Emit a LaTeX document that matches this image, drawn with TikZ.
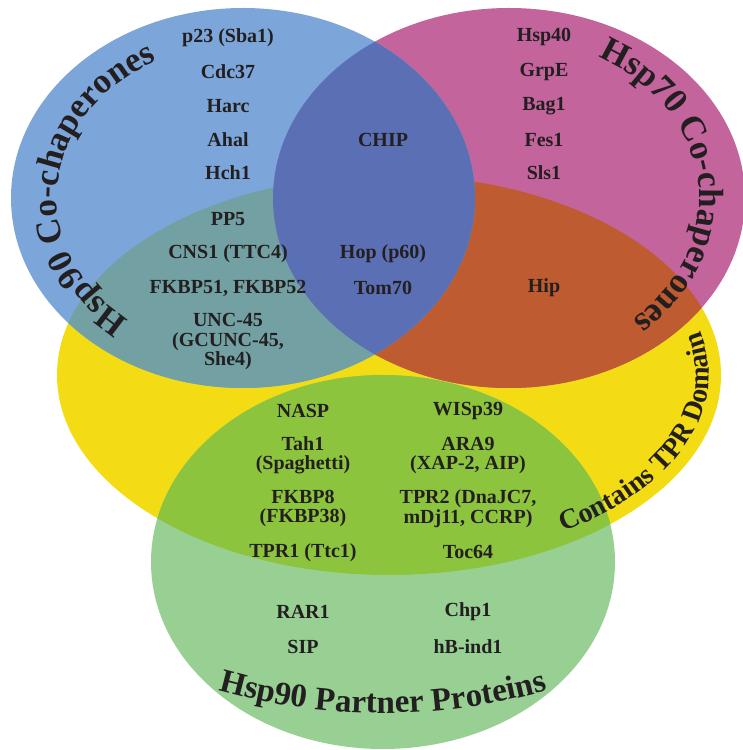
\documentclass[tikz,border=0pt]{standalone}
\usepackage{fontspec}
\setmainfont{Liberation Serif}
\usetikzlibrary{decorations.text}
\definecolor{cblue}{RGB}{124,166,218}
\definecolor{cmag}{RGB}{196,100,156}
\definecolor{cdark}{RGB}{91,111,181}
\definecolor{cyel}{RGB}{243,220,20}
\definecolor{corange}{RGB}{191,91,48}
\definecolor{cteal}{RGB}{114,160,163}
\definecolor{cgreen}{RGB}{152,207,147}
\definecolor{cygreen}{RGB}{141,196,61}
\definecolor{ink}{RGB}{35,31,32}
\begin{document}
\begin{tikzpicture}[x=1pt,y=1pt,
  item/.style={font=\fontsize{20}{19.5}\selectfont\bfseries, text=ink, align=center, inner sep=0pt},
  curvlabel/.style={decorate, decoration={text along path, text align=center, text color=ink}}]
\useasboundingbox (0,0) rectangle (743,750);
\def\blueE{(243,552) ellipse [x radius=232, y radius=190]}
\def\magE{(509,552) ellipse [x radius=236, y radius=190]}
\def\yelE{(389,375) ellipse [x radius=332, y radius=200]}
\def\grnE{(383,188) ellipse [x radius=232, y radius=187]}
% base fills
\fill[cyel] \yelE;
\fill[cgreen] \grnE;
\fill[cmag] \magE;
\fill[cblue] \blueE;
% overlaps with yellow
\begin{scope}
  \clip \yelE;
  \fill[cygreen] \grnE;
  \fill[corange] \magE;
  \fill[cteal] \blueE;
\end{scope}
% blue with magenta
\begin{scope}
  \clip \blueE;
  \fill[cdark] \magE;
\end{scope}
% curved labels
\path[curvlabel, decoration={text={|\fontsize{35}{35}\selectfont\bfseries|Hsp90 Co-chaperones}}]
  (243,552) ++(248:186 and 155) arc[start angle=248, end angle=102, x radius=186, y radius=155];
\path[curvlabel, decoration={text={|\fontsize{35}{35}\selectfont\bfseries|Hsp70 Co-chaperones}}]
  (509,552) ++(74:190 and 160) arc[start angle=74, end angle=-62, x radius=190, y radius=160];
\path[curvlabel, decoration={text={|\fontsize{28}{28}\selectfont\bfseries|Contains TPR Domain}}]
  (389,375) ++(-60:320 and 187) arc[start angle=-60, end angle=18, x radius=320, y radius=187];
\path[curvlabel, decoration={text={|\fontsize{33}{33}\selectfont\bfseries|Hsp90 Partner Proteins}}]
  (383,647) ++(250:610) arc[start angle=250, end angle=290, radius=610];
% items: Hsp90 co-chaperones
\node[item] (p23) at (228,712) {p23 (Sba1)};
\node[item] (cdc) at (228,678) {Cdc37};
\node[item] (harc) at (228,644) {Harc};
\node[item] (aha) at (228,610) {Ahal};
\node[item] (hch) at (228,577) {Hch1};
\node[item] (pp5) at (228,531) {PP5};
\node[item] (cns) at (228,496) {CNS1 (TTC4)};
\node[item] (fkbp) at (228,462) {FKBP51, FKBP52};
\node[item] (unc) at (228,408) {UNC-45\\(GCUNC-45,\\She4)};
% shared
\node[item] (chip) at (383,610) {CHIP};
\node[item] (hop) at (383,496) {Hop (p60)};
\node[item] (tom) at (383,462) {Tom70};
% Hsp70 co-chaperones
\node[item] (hsp40) at (544,713) {Hsp40};
\node[item] (grpe) at (544,678) {GrpE};
\node[item] (bag) at (544,644) {Bag1};
\node[item] (fes) at (544,610) {Fes1};
\node[item] (sls) at (544,577) {Sls1};
\node[item] (hip) at (544,462) {Hip};
% TPR / partner proteins
\node[item] (nasp) at (303,339) {NASP};
\node[item] (tah) at (303,294.5) {Tah1\\(Spaghetti)};
\node[item] (fkbp8) at (303,241.5) {FKBP8\\(FKBP38)};
\node[item] (tpr1) at (303,197) {TPR1 (Ttc1)};
\node[item] (rar) at (303,138) {RAR1};
\node[item] (sip) at (303,103) {SIP};
\node[item] (wisp) at (468,339) {WISp39};
\node[item] (ara) at (468,294.5) {ARA9\\(XAP-2, AIP)};
\node[item] (tpr2) at (468,241.5) {TPR2 (DnaJC7,\\mDj11, CCRP)};
\node[item] (toc) at (468,198) {Toc64};
\node[item] (chp) at (468,138) {Chp1};
\node[item] (hb) at (468,103) {hB-ind1};
\end{tikzpicture}
\end{document}
